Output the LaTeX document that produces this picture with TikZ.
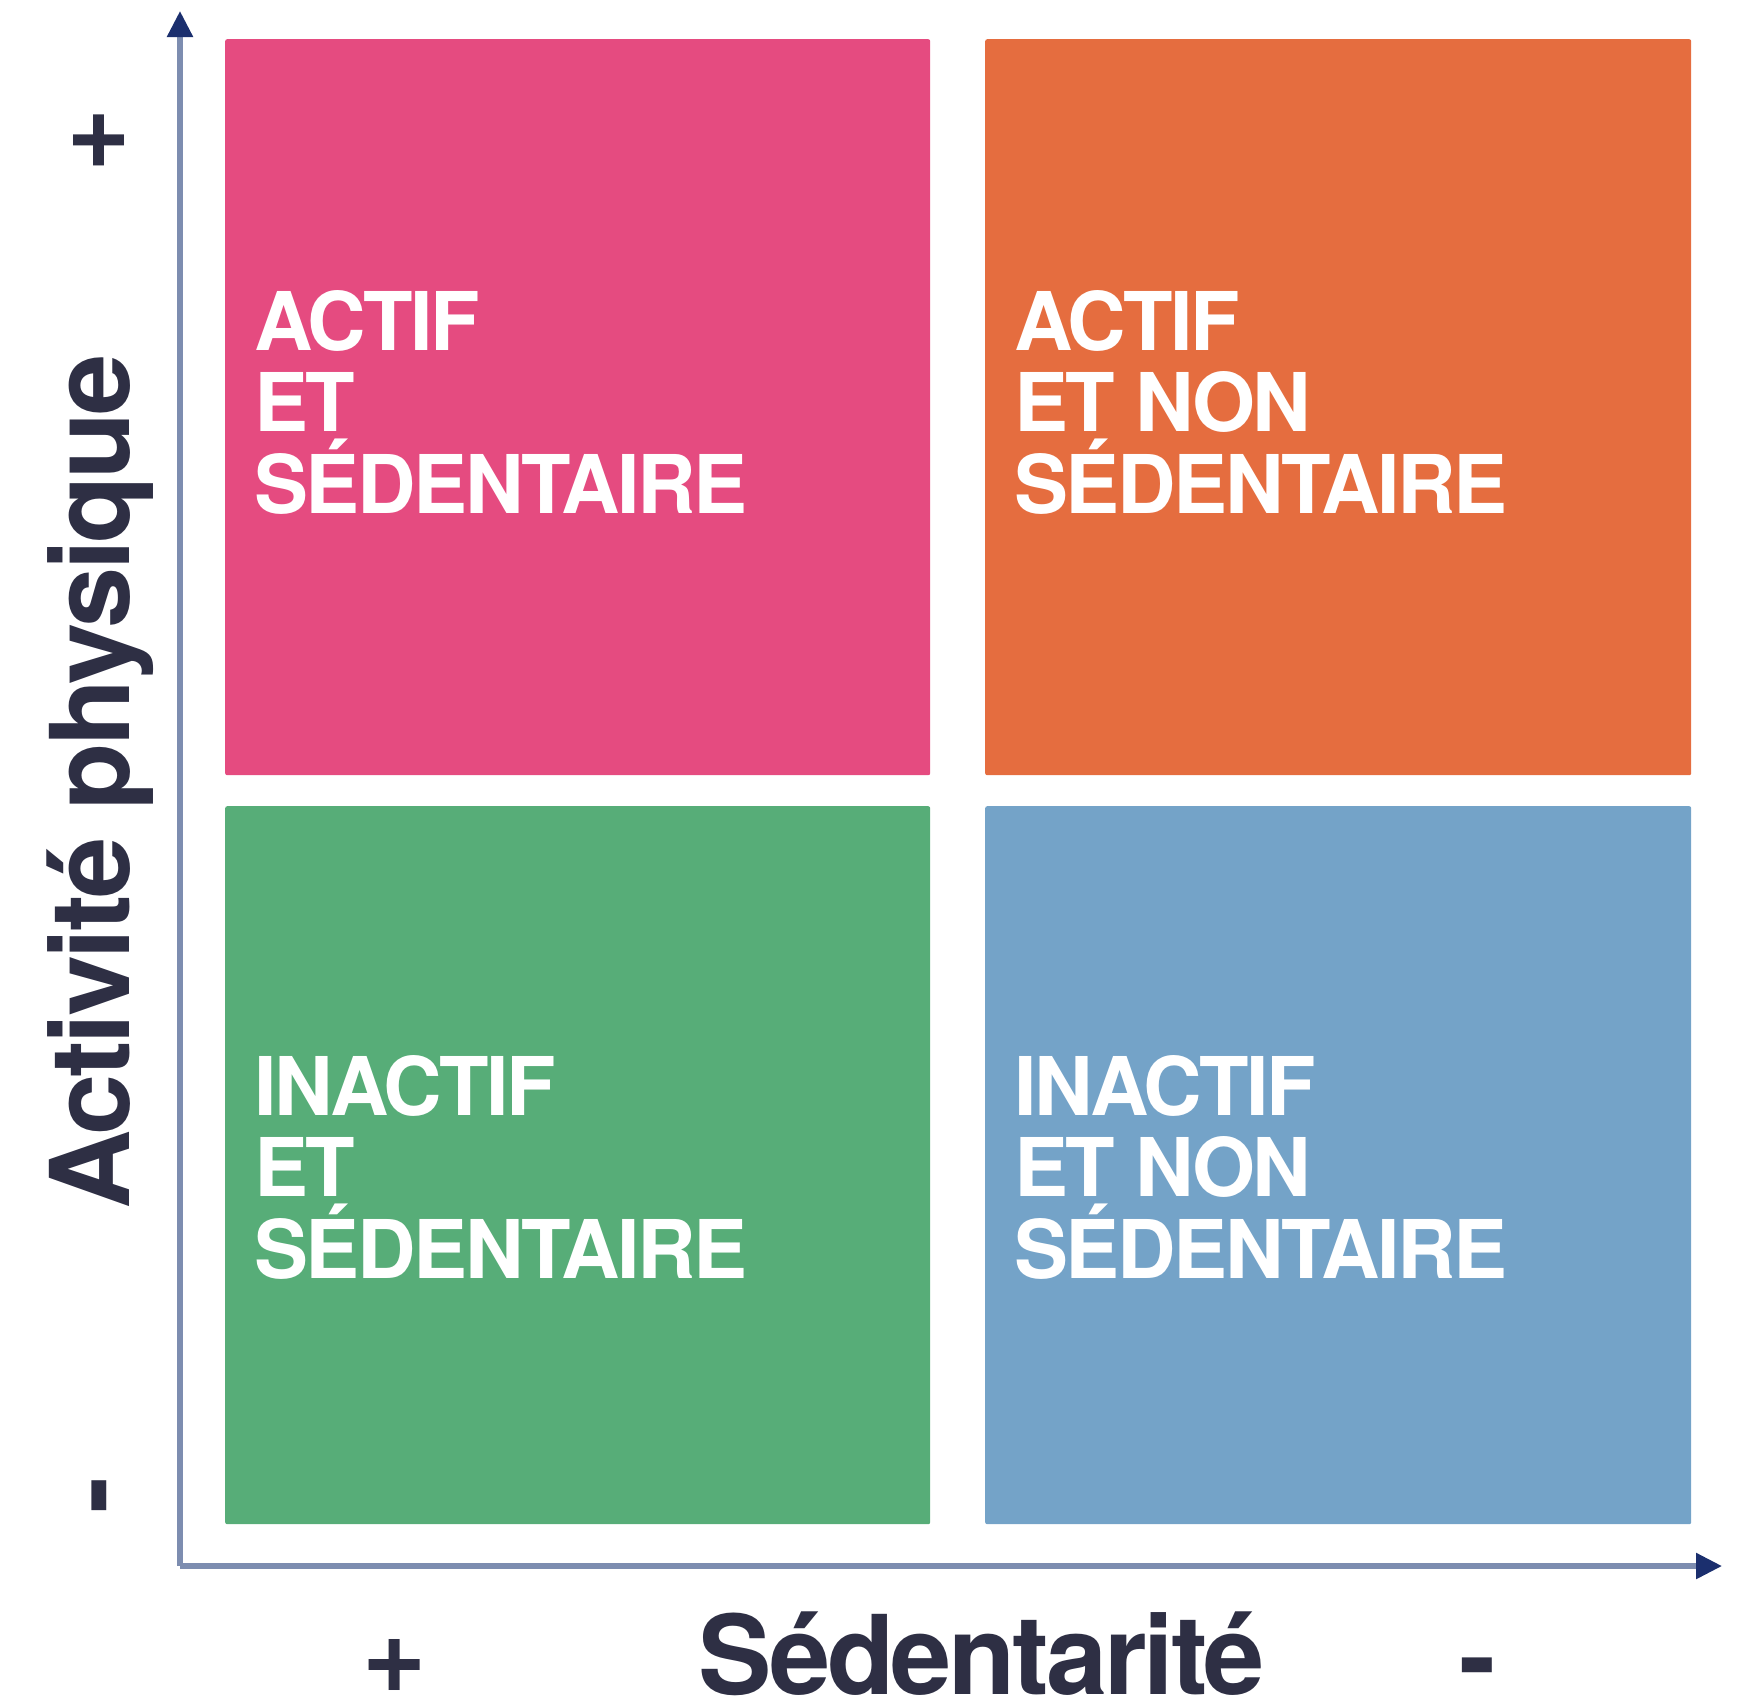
\documentclass[tikz,border=0pt]{standalone}
\usepackage{fontspec}
\setmainfont{TeX Gyre Heros}
\usetikzlibrary{arrows.meta}
\definecolor{pinkq}{HTML}{E54B80}
\definecolor{orangeq}{HTML}{E56D3F}
\definecolor{greenq}{HTML}{57AD78}
\definecolor{blueq}{HTML}{74A3C8}
\definecolor{axisline}{HTML}{7D8DB0}
\definecolor{axistip}{HTML}{1B2F6E}
\definecolor{labelink}{HTML}{2E2F44}
\tikzset{
  quad/.style={draw=none, rounded corners=2pt, inner sep=0pt, anchor=north west},
  % anchored on the baseline of the last line
  quadtext/.style={text=white, anchor=base west, inner sep=0pt, align=left,
    font=\bfseries\addfontfeature{LetterSpace=-3}\fontsize{81}{81.5}\selectfont},
  axis/.style={line width=5.5pt, draw=axisline,
    -{Triangle[length=26pt,width=25pt,color=axistip,fill=axistip]}},
  axislabel/.style={text=labelink, inner sep=0pt,
    font=\bfseries\addfontfeature{LetterSpace=-3}\fontsize{110}{110}\selectfont},
}
\begin{document}
\begin{tikzpicture}[x=1pt,y=-1pt]
\useasboundingbox (0,0) rectangle (1752,1701);

% quadrants
\node[quad, fill=pinkq, minimum width=705pt, minimum height=736pt] (ul) at (225,39) {};
\node[quad, fill=orangeq, minimum width=706pt, minimum height=736pt] (ur) at (985,39) {};
\node[quad, fill=greenq, minimum width=705pt, minimum height=718pt] (ll) at (225,806) {};
\node[quad, fill=blueq, minimum width=706pt, minimum height=718pt] (lr) at (985,806) {};

% quadrant captions
\node[quadtext] (tul) at (254,513) {ACTIF\\ET\\SÉDENTAIRE};
\node[quadtext] (tur) at (1014,513) {ACTIF\\ET NON\\SÉDENTAIRE};
\node[quadtext] (tll) at (254,1278) {INACTIF\\ET\\SÉDENTAIRE};
\node[quadtext] (tlr) at (1014,1278) {INACTIF\\ET NON\\SÉDENTAIRE};

% axes
\coordinate (origin) at (180,1566);
\coordinate (ytop) at (180,11);
\coordinate (xend) at (1722,1566);
\draw[axis] (origin) -- (ytop);
\draw[axis] (origin) -- (xend);

% axis titles and signs
\node[axislabel, rotate=90, anchor=base] (ylab) at (129,782) {Activité physique};
\node[axislabel, rotate=90] (yplus) at (100,140) {+};
\node[axislabel, rotate=90] (yminus) at (111,1495) {-};
\node[axislabel, anchor=base] (xlab) at (982,1694) {Sédentarité};
\node[axislabel] (xplus) at (395,1666) {+};
\node[axislabel] (xminus) at (1478,1677) {-};
\end{tikzpicture}
\end{document}
